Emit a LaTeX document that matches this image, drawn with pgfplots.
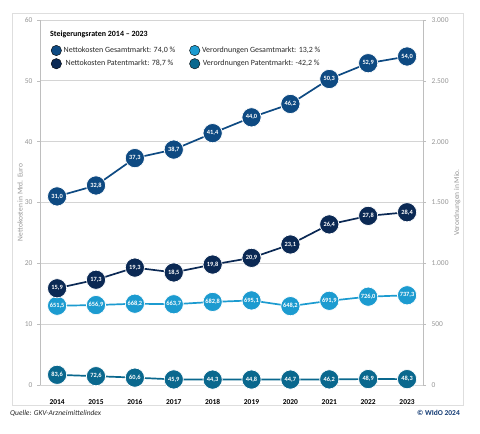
\documentclass[border=0pt]{standalone}
\usepackage{pgfplots}
\pgfplotsset{compat=1.18}
\usepackage{fontspec}
\setmainfont{Carlito}

\definecolor{ngesamt}{RGB}{14,74,130}
\definecolor{npatent}{RGB}{11,41,84}
\definecolor{vgesamt}{RGB}{28,155,208}
\definecolor{vpatent}{RGB}{10,104,142}
\definecolor{gridgrey}{RGB}{212,212,212}
\definecolor{axisgrey}{RGB}{190,190,190}
\definecolor{ticktext}{RGB}{150,150,150}
\definecolor{framegrey}{RGB}{222,222,222}
\definecolor{widoblue}{RGB}{18,58,115}
\definecolor{legtext}{RGB}{40,40,40}

\pgfplotsset{
  frame/.style={
    scale only axis, width=383bp, height=365bp,
    at={(40bp,49bp)}, anchor=south west,
    xmin=2013.56, xmax=2023.41,
    xtick={2014,2015,2016,2017,2018,2019,2020,2021,2022,2023},
    xticklabels={2014,2015,2016,2017,2018,2019,2020,2021,2022,2023},
    ymin=0,
    tick align=outside, major tick length=3bp,
    every tick/.style={axisgrey, line width=0.6bp},
    tick label style={font=\fontsize{7.5}{9}\selectfont, text=ticktext},
    /pgf/number format/assume math mode=true,
    /pgf/number format/use comma,
    scaled y ticks=false,
    clip=false,
  },
  series/.style={
    color=#1, line width=1.7bp, mark=*, mark size=9.6bp,
    mark options={fill=#1, draw=white, line width=0.7bp},
    nodes near coords={\pgfmathprintnumber[fixed,fixed zerofill,precision=1,use comma,assume math mode=true]{\pgfplotspointmeta}},
    every node near coord/.append style={anchor=center, text=white, inner sep=0pt,
      font=\fontsize{6.4}{7}\selectfont\bfseries},
  },
}

\begin{document}
\begin{tikzpicture}
\useasboundingbox (0,0) rectangle (480bp,434bp);
\draw[framegrey, line width=0.8bp] (12bp,29bp) rectangle (463bp,421bp);

% Verordnungen (right axis), drawn first so the grid lies underneath
\begin{axis}[frame,
  ymax=3000, ytick={0,500,...,3000},
  ymajorgrids, grid style={gridgrey, line width=0.7bp},
  axis y line*=right, axis x line*=bottom,
  x axis line style={draw=none},
  y axis line style={axisgrey, line width=0.7bp},
  xtick style={draw=none},
  xticklabel style={font=\fontsize{7.5}{9}\selectfont\bfseries, text=black, yshift=-8bp},
  yticklabel style={xshift=2bp},
  ylabel={Verordnungen in Mio.},
  ylabel style={at={(axis description cs:1.089,0.5)}, anchor=center,
    font=\fontsize{7.5}{9}\selectfont, text=ticktext},
]
\addplot[series=vgesamt] coordinates {
  (2014,651.5) (2015,656.9) (2016,668.2) (2017,663.7) (2018,682.8)
  (2019,695.1) (2020,648.2) (2021,691.9) (2022,726.0) (2023,737.3)};
\addplot[series=vpatent] coordinates {
  (2014,83.6) (2015,72.6) (2016,60.6) (2017,45.9) (2018,44.3)
  (2019,44.8) (2020,44.7) (2021,46.2) (2022,48.9) (2023,48.3)};
\end{axis}

% Nettokosten (left axis)
\begin{axis}[frame,
  ymax=60, ytick={0,10,...,60},
  axis y line*=left, axis x line=none,
  y axis line style={axisgrey, line width=0.7bp},
  yticklabel style={xshift=-1bp},
  ylabel={Nettokosten in Mrd. Euro},
  ylabel style={at={(axis description cs:-0.052,0.5)}, anchor=center,
    font=\fontsize{7.5}{9}\selectfont, text=ticktext},
  legend columns=2,
  legend style={draw=none, fill=none, inner sep=0pt,
    at={(axis description cs:0.028,0.932)}, anchor=north west,
    font=\fontsize{8}{9.6}\selectfont, text=legtext,
    row sep=2.2bp,
    /tikz/every even column/.append style={column sep=12bp}},
  legend image code/.code={\fill[#1] (5bp,0bp) circle (5.2bp);},
]
\addplot[series=ngesamt, forget plot] coordinates {
  (2014,31.0) (2015,32.8) (2016,37.3) (2017,38.7) (2018,41.4)
  (2019,44.0) (2020,46.2) (2021,50.3) (2022,52.9) (2023,54.0)};
\addplot[series=npatent, forget plot] coordinates {
  (2014,15.9) (2015,17.3) (2016,19.3) (2017,18.5) (2018,19.8)
  (2019,20.9) (2020,23.1) (2021,26.4) (2022,27.8) (2023,28.4)};
\addlegendimage{fill=ngesamt}
\addlegendentry{Nettokosten Gesamtmarkt: 74,0 \%}
\addlegendimage{fill=vgesamt}
\addlegendentry{Verordnungen Gesamtmarkt: 13,2 \%}
\addlegendimage{fill=npatent}
\addlegendentry{Nettokosten Patentmarkt: 78,7 \%}
\addlegendimage{fill=vpatent}
\addlegendentry{Verordnungen Patentmarkt: -42,2 \%}
\node[anchor=west, font=\fontsize{8}{9.6}\selectfont\bfseries, text=black, inner sep=0pt]
  at (axis description cs:0.026,0.96) {Steigerungsraten 2014 – 2023};
\end{axis}

\node[anchor=west, inner sep=0pt, font=\fontsize{7.5}{9}\selectfont\itshape, text=legtext]
  at (10bp,21bp) {Quelle: GKV-Arzneimittelindex};
\node[anchor=east, inner sep=0pt, font=\fontsize{7.5}{9}\selectfont\bfseries, text=widoblue]
  at (460bp,21bp) {© WIdO 2024};
\end{tikzpicture}
\end{document}
